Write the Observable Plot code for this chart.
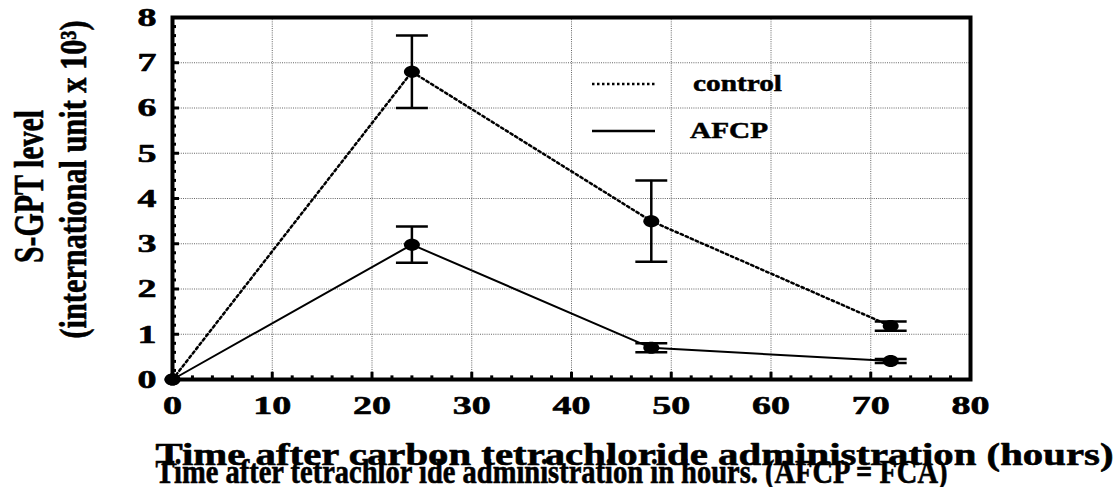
<!DOCTYPE html>
<html>
<head>
<meta charset="utf-8">
<script src="https://cdn.jsdelivr.net/npm/d3@7"></script>
<script src="https://cdn.jsdelivr.net/npm/@observablehq/plot@0.6"></script>
<style>
  html, body { margin: 0; padding: 0; background: #fff; }
  #wrap { position: relative; width: 1115px; height: 487px; }
  #legend { position: absolute; left: 0; top: 0; pointer-events: none; }
  svg text { font-family: "Liberation Serif", "Times New Roman", serif !important; font-weight: bold; }
</style>
</head>
<body>
<div id="wrap"></div>
<script>
// ---- data ----
const hours = [0, 24, 48, 72];
const controlMean = [0, 6.8, 3.5, 1.18];
const controlErr = [0, 0.8, 0.9, 0.1];
const afcpMean = [0, 2.98, 0.7, 0.41];
const afcpErr = [0, 0.4, 0.1, 0.045];
const seriesNames = ["control", "AFCP"];
const xTicks = [0, 10, 20, 30, 40, 50, 60, 70, 80];
const yTicks = [0, 1, 2, 3, 4, 5, 6, 7, 8];
const xMinor = d3.range(0, 81, 2).filter(v => v % 10 !== 0);
const yMinor = d3.range(0, 41).map(v => v / 5).filter(v => Math.abs(v - Math.round(v)) > 1e-9);
const xTitle1 = "Time after carbon tetrachloride administration (hours)";
const xTitle2 = "Time after tetrachlor ide administration in hours. (AFCP = FCA)";
const yTitle1 = "S-GPT level";
const yTitle2 = "(international unit x 10³)";

const rows = [];
hours.forEach((h, i) => {
  rows.push({series: "control", x: h, y: controlMean[i], e: controlErr[i]});
  rows.push({series: "AFCP", x: h, y: afcpMean[i], e: afcpErr[i]});
});
const ctrl = rows.filter(d => d.series === "control");
const afcp = rows.filter(d => d.series === "AFCP");
const withErr = rows.filter(d => d.e > 0);

const ellipse = {
  draw(ctx) {
    const rx = 8, ry = 6, k = 0.5523;
    ctx.moveTo(-rx, 0);
    ctx.bezierCurveTo(-rx, -ry * k, -rx * k, -ry, 0, -ry);
    ctx.bezierCurveTo(rx * k, -ry, rx, -ry * k, rx, 0);
    ctx.bezierCurveTo(rx, ry * k, rx * k, ry, 0, ry);
    ctx.bezierCurveTo(-rx * k, ry, -rx, ry * k, -rx, 0);
    ctx.closePath();
  }
};

const font = {fontFamily: "Liberation Serif", fontWeight: "bold", fill: "black", stroke: "black", strokeWidth: 0.6};
const capHalf = 1.6;

const chart = Plot.plot({
  width: 1115,
  height: 487,
  marginLeft: 172,
  marginRight: 145,
  marginTop: 17,
  marginBottom: 108,
  style: {background: "white", overflow: "visible"},
  x: {domain: [0, 80], axis: null},
  y: {domain: [0, 8], axis: null},
  marks: [
    Plot.ruleX(xTicks.slice(1, -1), {x: d => d, stroke: "#666", strokeWidth: 1, strokeDasharray: "1,1.2"}),
    Plot.ruleY(yTicks.slice(1, -1), {y: d => d, stroke: "#666", strokeWidth: 1, strokeDasharray: "1,1.2"}),
    // ticks (inward)
    Plot.ruleX(xTicks, {x: d => d, y1: 0, y2: 0.16, stroke: "black", strokeWidth: 3}),
    Plot.ruleX(xMinor, {x: d => d, y1: 0, y2: 0.08, stroke: "black", strokeWidth: 3}),
    Plot.ruleY(yTicks, {y: d => d, x1: 0, x2: 0.7, stroke: "black", strokeWidth: 3}),
    Plot.ruleY(yMinor, {y: d => d, x1: 0, x2: 0.4, stroke: "black", strokeWidth: 3}),
    Plot.frame({stroke: "black", strokeWidth: 4}),
    // series lines
    Plot.line(ctrl, {x: "x", y: "y", stroke: "black", strokeWidth: 2.5, strokeDasharray: "2.5,3"}),
    Plot.line(afcp, {x: "x", y: "y", stroke: "black", strokeWidth: 2}),
    // error bars
    Plot.ruleX(withErr, {x: "x", y1: d => d.y - d.e, y2: d => d.y + d.e, stroke: "black", strokeWidth: 2.5}),
    Plot.link(withErr, {x1: d => d.x - capHalf, x2: d => d.x + capHalf, y1: d => d.y + d.e, y2: d => d.y + d.e, stroke: "black", strokeWidth: 2.5}),
    Plot.link(withErr, {x1: d => d.x - capHalf, x2: d => d.x + capHalf, y1: d => d.y - d.e, y2: d => d.y - d.e, stroke: "black", strokeWidth: 2.5}),
    Plot.dot(rows, {x: "x", y: "y", symbol: ellipse, fill: "black", stroke: "none"}),
    // tick labels
    Plot.text(xTicks, {x: d => d, y: 0, text: d => String(d), dy: 26, fontSize: 26, ...font}),
    Plot.text(yTicks, {x: 0, y: d => d, text: d => String(d), dx: -16, textAnchor: "end", fontSize: 26, ...font}),
    // axis titles
    Plot.text([xTitle1], {frameAnchor: "bottom-left", text: d => d, textAnchor: "start", lineAnchor: "bottom", dx: -17, dy: 85, fontSize: 32, ...font}),
    Plot.text([xTitle2], {frameAnchor: "bottom-left", text: d => d, textAnchor: "start", lineAnchor: "bottom", dx: -17, dy: 103, fontSize: 33, ...font}),
    Plot.text([yTitle1], {frameAnchor: "left", text: d => d, rotate: -90, textAnchor: "middle", lineAnchor: "bottom", dx: -130, dy: -12, fontSize: 42, ...font}),
    Plot.text([yTitle2], {frameAnchor: "left", text: d => d, rotate: -90, textAnchor: "middle", lineAnchor: "bottom", dx: -87, dy: -19, fontSize: 37, ...font})
  ]
});

// stretch/condense text to the widths seen in the reference
const lengths = new Map([
  [xTitle1, 958], [xTitle2, 792], [yTitle1, 153], [yTitle2, 318]
]);
d3.select(chart).selectAll("text").each(function() {
  const t = this.textContent;
  let L = null;
  if (lengths.has(t)) L = lengths.get(t);
  else if (/^\d+$/.test(t)) L = t.length * 19;
  if (L) {
    this.setAttribute("textLength", L);
    this.setAttribute("lengthAdjust", "spacingAndGlyphs");
  }
});

const wrap = document.getElementById("wrap");
wrap.appendChild(chart);

// legend overlay
const leg = d3.select(wrap).append("svg").attr("id", "legend").attr("width", 1115).attr("height", 487);
const legendItems = [
  {name: seriesNames[0], dash: "2.5,2.5", y: 84, tx: 693, len: 89},
  {name: seriesNames[1], dash: null, y: 131, tx: 690, len: 78}
];
legendItems.forEach(it => {
  leg.append("line").attr("x1", 592).attr("x2", 655).attr("y1", it.y).attr("y2", it.y)
    .attr("stroke", "black").attr("stroke-width", 2.5).attr("stroke-dasharray", it.dash);
  leg.append("text").attr("x", it.tx).attr("y", it.y + 7).text(it.name)
    .attr("font-size", 24).attr("stroke", "black").attr("stroke-width", 0.5)
    .attr("textLength", it.len).attr("lengthAdjust", "spacingAndGlyphs");
});
</script>
</body>
</html>
